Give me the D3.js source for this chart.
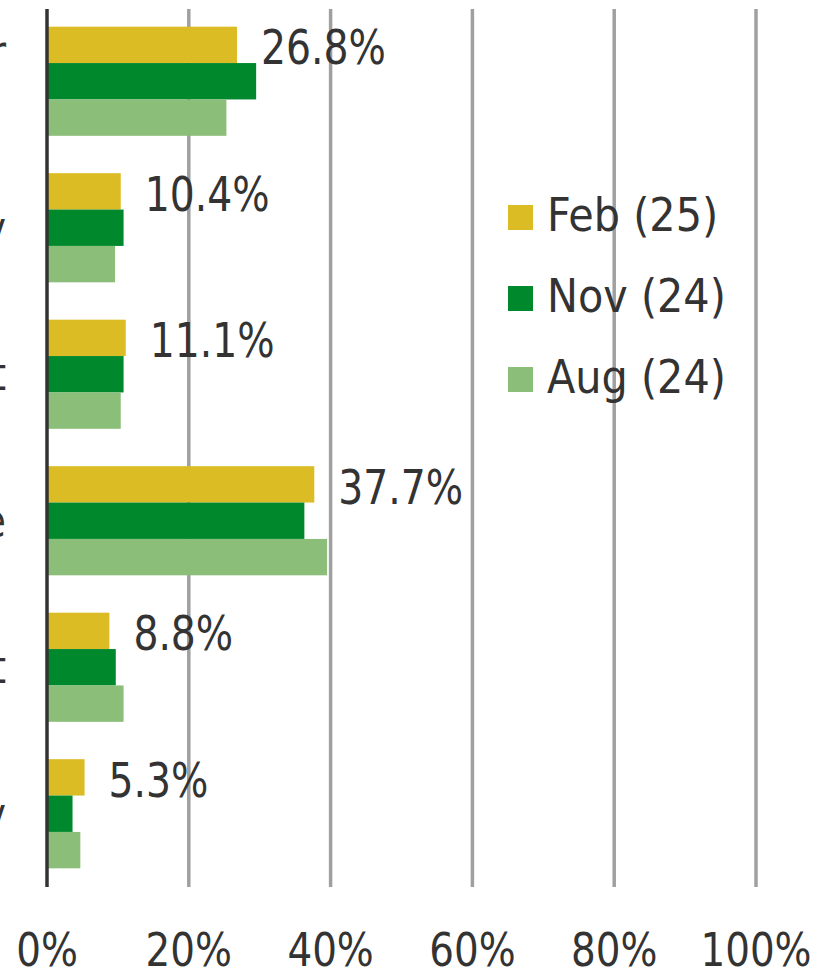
<!doctype html>
<html lang="en">
  <head>
    <meta charset="utf-8">
    <script src="https://d3js.org/d3.v7.min.js"></script>
    <title>Survey results</title>
    <style>
      body { margin: 0; background: #fff; }
      svg { display: block; }
      text { font-family: "DejaVu Sans Condensed", "DejaVu Sans", sans-serif; fill: #333; }
    </style>
  </head>
  <body>
    <svg width="835" height="971"></svg>
<script>
    // category labels (wrapped ones use "|")
    var categories = ["Rising labour|costs", "Energy", "Cost of credit", "Economic climate", "Government support", "Technology"];
    var seriesNames = ["Feb (25)", "Nov (24)", "Aug (24)"];
    var feb = [26.8, 10.4, 11.1, 37.7, 8.8, 5.3];
    var nov = [29.5, 10.8, 10.8, 36.3, 9.7, 3.6];
    var aug = [25.3, 9.6, 10.4, 39.5, 10.8, 4.7];
    var xTicks = [0, 20, 40, 60, 80, 100];
    var colors = ["#dcbc24", "#00882d", "#8bbe79"];

    var rows = categories.map(function(c, i) {
        return {cat: c, vals: [feb[i], nov[i], aug[i]]};
    });

    var svg = d3.select("svg");
    var xScale = d3.scaleLinear().domain([0, 100]).range([47, 756]);
    var yScale = d3.scaleBand().domain(categories).range([8, 887])
        .paddingInner(0.255).paddingOuter(0.1275);
    var inner = d3.scaleBand().domain(seriesNames).range([0, yScale.bandwidth()]);

    // gridlines
    svg.append("g").selectAll("line")
        .data(xTicks.slice(1))
        .enter().append("line")
        .attr("x1", function(d) { return xScale(d); })
        .attr("x2", function(d) { return xScale(d); })
        .attr("y1", 9).attr("y2", 887)
        .attr("stroke", "#a0a0a0")
        .attr("stroke-width", 3.5);

    // bars
    var groups = svg.append("g").selectAll("g")
        .data(rows)
        .enter().append("g")
        .attr("transform", function(d) { return "translate(0," + yScale(d.cat) + ")"; });
    groups.selectAll("rect")
        .data(function(d) { return d.vals; })
        .enter().append("rect")
        .attr("x", xScale(0))
        .attr("y", function(d, i) { return inner(seriesNames[i]); })
        .attr("width", function(d) { return xScale(d) - xScale(0); })
        .attr("height", inner.bandwidth())
        .attr("fill", function(d, i) { return colors[i]; });

    // value labels for the latest series
    groups.append("text")
        .attr("transform", function(d) {
            return "translate(" + (xScale(d.vals[0]) + 24) + "," + (inner(seriesNames[0]) + inner.bandwidth() + 1) + ") scale(0.91,1)";
        })
        .style("font-size", "48px")
        .text(function(d) { return d.vals[0].toFixed(1) + "%"; });

    // axis line
    svg.append("line")
        .attr("x1", xScale(0)).attr("x2", xScale(0))
        .attr("y1", 9).attr("y2", 887)
        .attr("stroke", "#333")
        .attr("stroke-width", 3.5);

    // category labels (mostly off the left edge, as in the source image)
    groups.each(function(d) {
        var g = d3.select(this);
        var lines = d.cat.split("|");
        var mid = yScale.bandwidth() / 2;
        var t = g.append("text")
            .style("font-size", "47px")
            .attr("text-anchor", "end")
            .attr("transform", "translate(6," + (mid + 16) + ") scale(0.91,1)")
            .text(lines[0]);
        if (lines.length > 1) {
            var w = t.node().getComputedTextLength() * 0.91;
            t.remove();
            var cx = 6 - w / 2;
            lines.forEach(function(l, k) {
                g.append("text")
                    .style("font-size", "47px")
                    .attr("text-anchor", "middle")
                    .attr("transform", "translate(" + cx + "," + (mid + 14 + (k - 0.5) * 54) + ") scale(0.91,1)")
                    .text(l);
            });
        }
    });

    // x tick labels
    svg.append("g").selectAll("text")
        .data(xTicks)
        .enter().append("text")
        .attr("text-anchor", "middle")
        .attr("transform", function(d) { return "translate(" + xScale(d) + ",966) scale(0.92,1)"; })
        .style("font-size", "47px")
        .text(function(d) { return d + "%"; });

    // legend
    var legend = svg.append("g").selectAll("g")
        .data(seriesNames)
        .enter().append("g")
        .attr("transform", function(d, i) { return "translate(508," + (205 + i * 81) + ")"; });
    legend.append("rect")
        .attr("width", 25).attr("height", 25)
        .attr("fill", function(d, i) { return colors[i]; });
    legend.append("text")
        .attr("x", 39).attr("y", 26)
        .style("font-size", "46px")
        .text(function(d) { return d; });
</script>
  </body>
</html>
